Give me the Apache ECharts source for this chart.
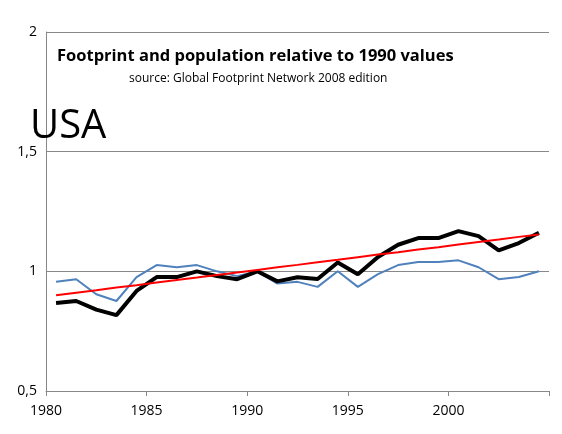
<!DOCTYPE html>
<html>
<head>
<meta charset="utf-8">
<script src="https://cdn.jsdelivr.net/npm/echarts@6/dist/echarts.min.js"></script>
<style>html,body{margin:0;padding:0;background:#fff}#main{width:562px;height:434px}</style>
</head>
<body>
<div id="main"></div>
<script>
var years = [];
for (var y = 1980; y <= 2004; y++) years.push(y);
// footprint (black), population (blue), trend (red)
var footprint = [0.868,0.876,0.84,0.817,0.918,0.976,0.976,1.0,0.98,0.967,1.0,0.958,0.975,0.968,1.037,0.988,1.06,1.111,1.139,1.139,1.168,1.147,1.088,1.118,1.161];
var population = [0.956,0.967,0.904,0.876,0.976,1.026,1.017,1.026,1.0,0.98,1.0,0.949,0.956,0.935,1.0,0.935,0.988,1.026,1.039,1.039,1.046,1.017,0.967,0.976,1.0];
var trend = [0.9,0.911,0.921,0.932,0.942,0.953,0.964,0.974,0.985,0.995,1.006,1.017,1.027,1.038,1.048,1.059,1.07,1.08,1.091,1.101,1.112,1.123,1.133,1.144,1.154];
var yTicks = [0.5, 1, 1.5, 2];

function pairs(vals) {
  return vals.map(function (v, i) { return [years[i] - 1980 + 0.5, v]; });
}
var font = 'Open Sans';
var chart = echarts.init(document.getElementById('main'));
chart.setOption({
  animation: false,
  textStyle: { fontFamily: font },
  grid: { left: 46, right: 13, top: 32, bottom: 43 },
  title: [
    { text: 'Footprint and population relative to 1990 values', left: 52, top: 43,
      textStyle: { fontSize: 16.5, fontWeight: 'bold', color: '#000', fontFamily: font } },
    { text: 'source: Global Footprint Network 2008 edition', left: 124, top: 68,
      textStyle: { fontSize: 12, fontWeight: 'normal', color: '#000', fontFamily: font } },
    { text: 'USA', left: 25, top: 102,
      textStyle: { fontSize: 40, fontWeight: 'normal', color: '#000', fontFamily: font } }
  ],
  xAxis: {
    type: 'value', min: 0, max: 25, interval: 5,
    axisLine: { lineStyle: { color: '#888' } },
    axisTick: { show: true, length: 5, lineStyle: { color: '#888' } },
    splitLine: { show: false },
    axisLabel: { color: '#000', fontSize: 14, margin: 13,
      formatter: function (v) { return v < 25 ? String(1980 + v) : ''; } }
  },
  yAxis: {
    type: 'value', min: 0.5, max: 2, interval: 0.5,
    axisLine: { show: true, lineStyle: { color: '#888' } },
    axisTick: { show: false },
    splitLine: { lineStyle: { color: '#888' } },
    axisLabel: { color: '#000', fontSize: 14, margin: 9,
      formatter: function (v) { return yTicks.indexOf(v) >= 0 ? String(v).replace('.', ',') : ''; } }
  },
  series: [
    { type: 'line', data: pairs(population), symbol: 'none', lineStyle: { color: '#4f81bd', width: 2 } },
    { type: 'line', data: pairs(footprint), symbol: 'none', lineStyle: { color: '#000', width: 4 } },
    { type: 'line', data: pairs(trend), symbol: 'none', lineStyle: { color: '#ff0000', width: 2 } }
  ]
});
</script>
</body>
</html>
